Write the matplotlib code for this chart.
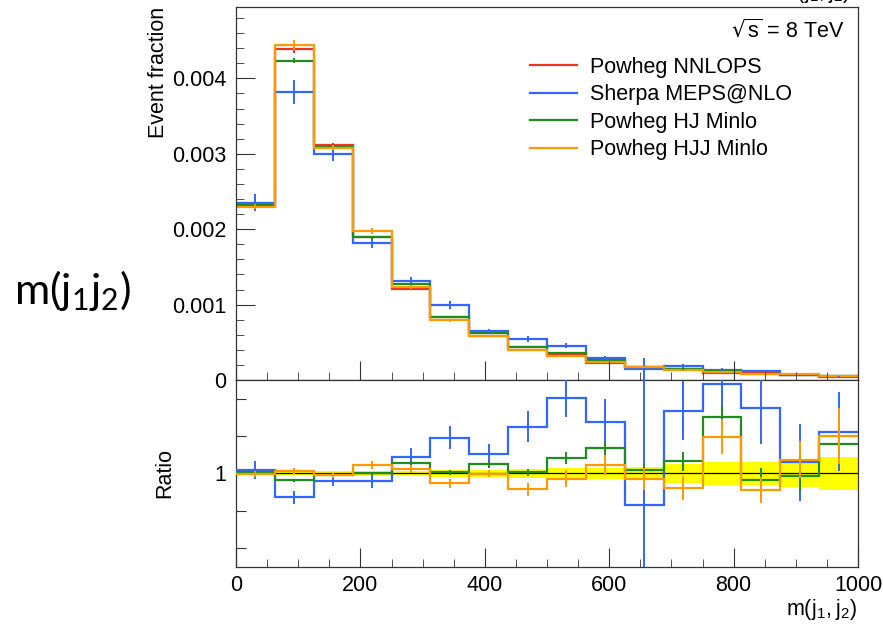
import numpy as np
import matplotlib
matplotlib.use("Agg")
import matplotlib.pyplot as plt
from matplotlib.ticker import MultipleLocator, FixedLocator, NullFormatter

plt.rcParams['font.family'] = ['Liberation Sans', 'DejaVu Sans']

# m(j1,j2) binning, 16 bins of 62.5
bin_edges = np.linspace(0, 1000, 17)

# event fractions per bin, in units of 1e-3
nnlops = [2.305, 4.39, 3.115, 1.89, 1.205, 0.835, 0.588, 0.436,
          0.325, 0.228, 0.175, 0.140, 0.092, 0.088, 0.068, 0.045]
nnlops_err = [0.025, 0.048, 0.034, 0.023, 0.018, 0.015, 0.012, 0.011,
              0.009, 0.0064, 0.006, 0.007, 0.0058, 0.0055, 0.0048, 0.0039]

sherpa = [2.351, 3.824, 2.994, 1.816, 1.309, 0.994, 0.650, 0.545,
          0.457, 0.291, 0.145, 0.187, 0.136, 0.119, 0.072, 0.055]
sherpa_err = [0.111, 0.158, 0.084, 0.070, 0.059, 0.052, 0.030, 0.036,
              0.034, 0.028, 0.149, 0.022, 0.021, 0.017, 0.014, 0.0095]

hj = [2.317, 4.232, 3.093, 1.890, 1.270, 0.839, 0.617, 0.438,
      0.352, 0.259, 0.178, 0.149, 0.120, 0.085, 0.067, 0.052]
hj_err = [0.023, 0.035, 0.025, 0.015, 0.014, 0.010, 0.011, 0.0087,
          0.0104, 0.0087, 0.0056, 0.007, 0.0059, 0.0053, 0.0061, 0.0045]

hjj = [2.298, 4.438, 3.081, 1.975, 1.233, 0.790, 0.587, 0.399,
       0.316, 0.238, 0.170, 0.129, 0.110, 0.080, 0.073, 0.054]
hjj_err = [0.035, 0.066, 0.037, 0.038, 0.024, 0.021, 0.012, 0.015,
           0.0146, 0.0123, 0.0102, 0.0087, 0.0086, 0.0062, 0.0068, 0.0068]

labels = ["Powheg NNLOPS", "Sherpa MEPS@NLO", "Powheg HJ Minlo", "Powheg HJJ Minlo"]
colors = ["#ee3322", "#3366ff", "#1f8c1f", "#ff9900"]

SCALE = 1e-3
centers = 0.5 * (bin_edges[:-1] + bin_edges[1:])
ref = np.array(nnlops)

fig = plt.figure(figsize=(8.83, 6.25), dpi=100)
top = fig.add_axes([0.2673, 0.392, 0.7044, 0.5973])
bot = fig.add_axes([0.2673, 0.0933, 0.7044, 0.2987])

series = [(nnlops, nnlops_err), (sherpa, sherpa_err), (hj, hj_err), (hjj, hjj_err)]

# upper panel: normalised distributions
for (vals, errs), col, lab in zip(series, colors, labels):
    v = np.array(vals) * SCALE
    e = np.array(errs) * SCALE
    top.stairs(v, bin_edges, baseline=None, color=col, lw=1.6, label=lab)
    top.errorbar(centers, v, yerr=e, fmt='none', ecolor=col, elinewidth=1.4, capsize=0)

top.set_xlim(0, 1000)
top.set_ylim(0, 0.00495)
top.yaxis.set_major_locator(MultipleLocator(0.001))
top.yaxis.set_minor_locator(MultipleLocator(0.0002))
top.yaxis.set_major_formatter(matplotlib.ticker.FuncFormatter(
    lambda y, _: "0" if y == 0 else f"{y:.3f}"))
top.xaxis.set_major_locator(MultipleLocator(200))
top.xaxis.set_minor_locator(MultipleLocator(50))
top.xaxis.set_major_formatter(NullFormatter())

# lower panel: ratio to NNLOPS
band = np.array(nnlops_err) / ref
bot.fill_between(bin_edges, np.append(1 - band, 1 - band[-1]),
                 np.append(1 + band, 1 + band[-1]), step='post',
                 color='#ffff00', lw=0, zorder=1)
bot.axhline(1.0, color='black', lw=0.9, zorder=2)
for (vals, errs), col in zip(series[1:], colors[1:]):
    r = np.array(vals) / ref
    re = np.array(errs) / ref
    bot.stairs(r, bin_edges, baseline=None, color=col, lw=1.6, zorder=3)
    bot.errorbar(centers, r, yerr=re, fmt='none', ecolor=col, elinewidth=1.4,
                 capsize=0, zorder=3)

bot.set_xlim(0, 1000)
bot.set_ylim(0.5, 1.5)
bot.yaxis.set_major_locator(FixedLocator([0.6, 0.8, 1.0, 1.2, 1.4]))
bot.yaxis.set_major_formatter(matplotlib.ticker.FuncFormatter(
    lambda y, _: "1" if abs(y - 1) < 1e-9 else ""))
bot.xaxis.set_major_locator(MultipleLocator(200))
bot.xaxis.set_minor_locator(MultipleLocator(50))

for ax in (top, bot):
    for sp in ax.spines.values():
        sp.set_linewidth(0.9)
        sp.set_color('#333333')
    ax.tick_params(which='both', direction='in', top=False, right=False,
                   labelsize=15.5, color='#333333')
    ax.tick_params(which='major', length=14)
    ax.tick_params(which='minor', length=6)
    ax.tick_params(axis='y', pad=7)
bot.tick_params(axis='y', which='major', length=7)
bot.tick_params(axis='x', pad=6)

top.legend(loc='upper left', bbox_to_anchor=(0.472, 0.866), frameon=False,
           fontsize=15.5, handlelength=2.2, handletextpad=0.6,
           labelspacing=0.3, borderpad=0, borderaxespad=0)
top.text(0.979, 0.937, r"$\sqrt{\mathregular{s}}$ = 8 TeV", transform=top.transAxes,
         ha='right', va='center', fontsize=15.5)

fig.text(0.179, 0.989, "Event fraction", rotation=90, ha='center', va='top', fontsize=15.5)
fig.text(0.187, 0.243, "Ratio", rotation=90, ha='center', va='center', fontsize=15.5)
fig.text(0.971, 0.005, r"$\mathregular{m(j_1,j_2)}$", ha='right', va='bottom', fontsize=15.5)
fig.text(0.963, 1 - 5 / 625, r"$\mathregular{m(j_1,j_2)}$", ha='right', va='bottom', fontsize=15.5)
fig.text(0.016, 0.535, r"$\mathregular{m(j_1j_2)}$", ha='left', va='center',
         fontsize=31, family=['Lato', 'DejaVu Sans'])

fig.savefig("out.png", dpi=100)
